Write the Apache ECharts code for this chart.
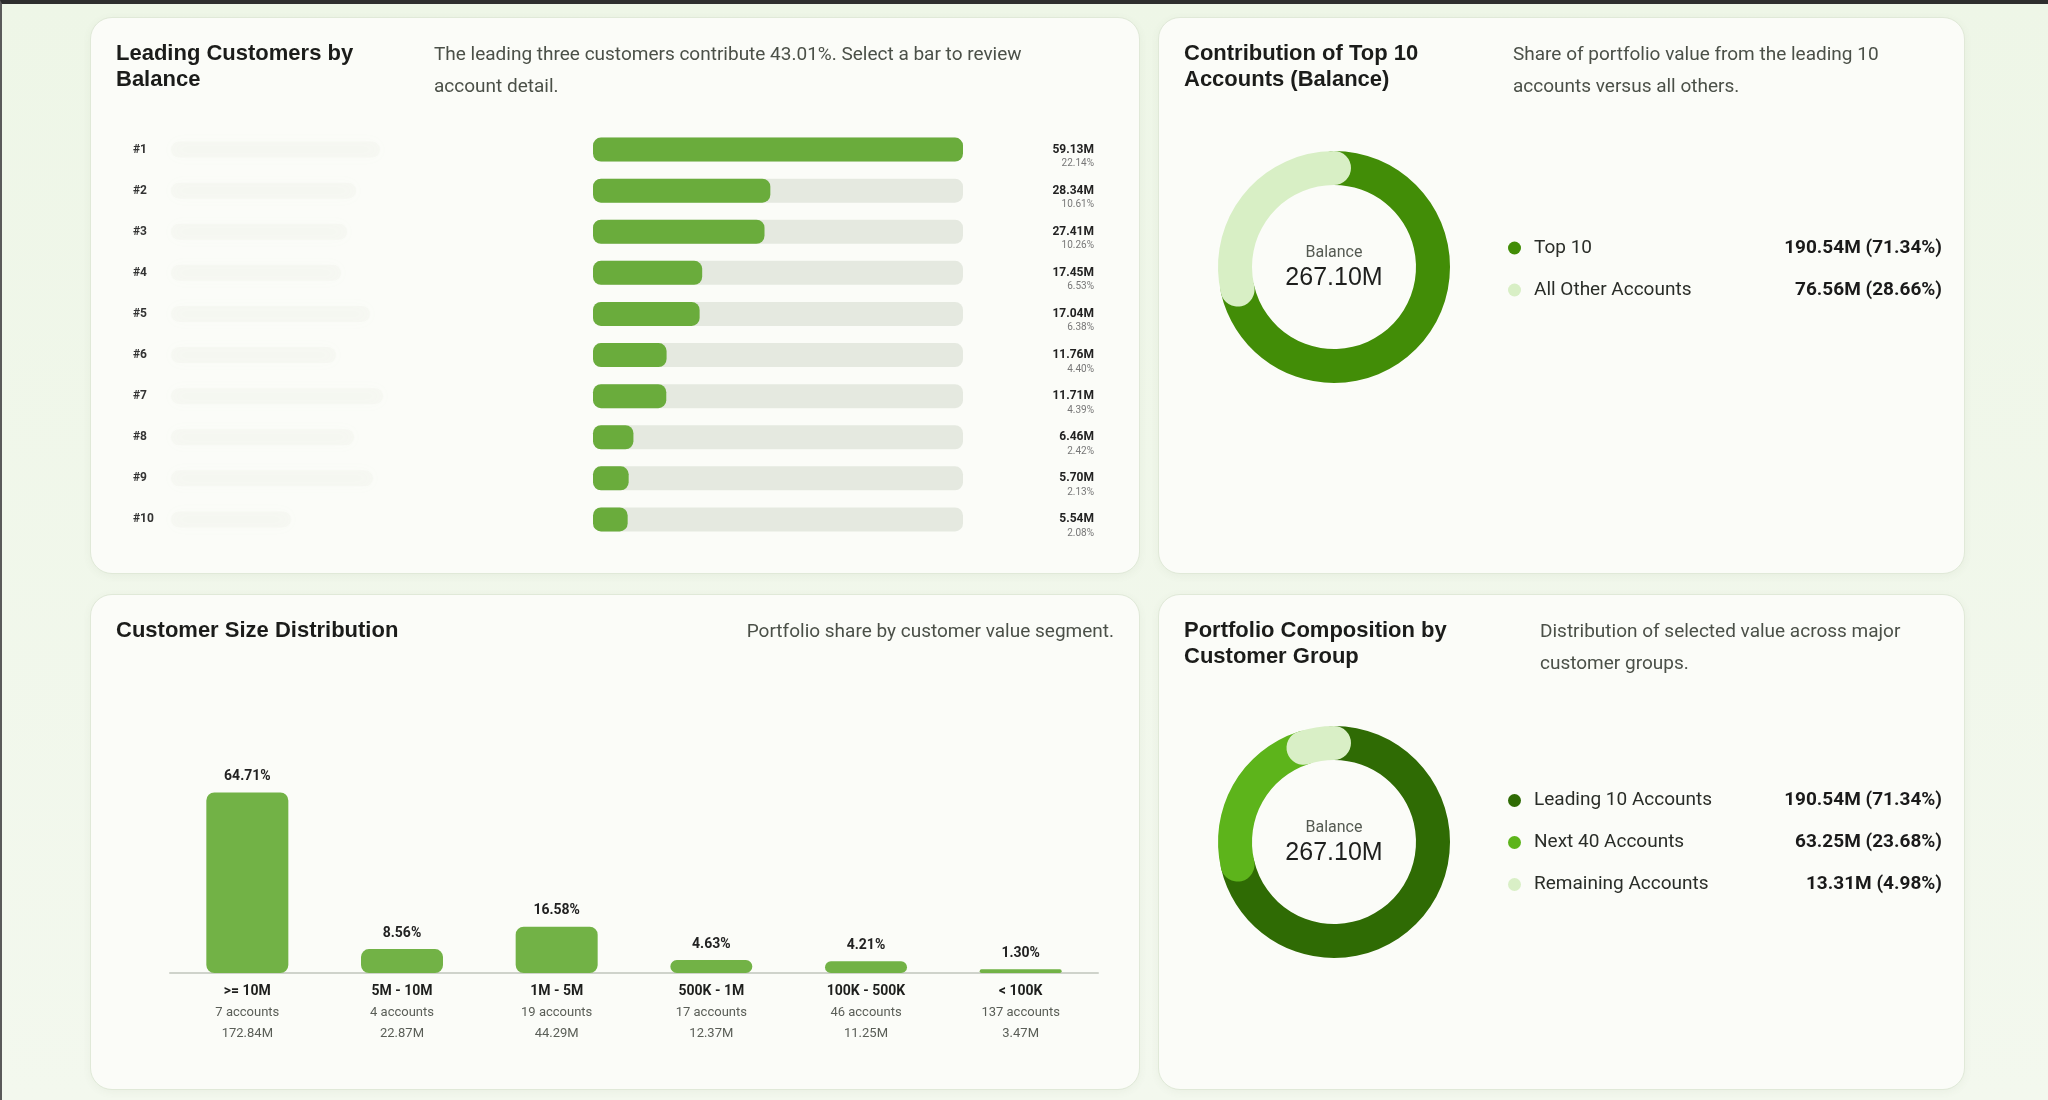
<!DOCTYPE html>
<html>
<head>
<meta charset="utf-8">
<script src="https://cdn.jsdelivr.net/npm/echarts@6/dist/echarts.min.js"></script>
<style>
  html, body { margin: 0; padding: 0; }
  body {
    width: 2048px; height: 1100px; overflow: hidden; position: relative;
    background: linear-gradient(180deg, #eef6e7 0%, #f3f8ee 100%);
    box-sizing: border-box; border-top: 4px solid #2e2e2e; border-left: 2px solid #5a5a5a;
  }
  .card {
    position: absolute; background: #fbfcf8; border: 1px solid #e0e9d8;
    border-radius: 22px; box-shadow: 0 2px 8px rgba(80, 110, 60, 0.06);
  }
  .card .chart { position: absolute; left: 0; top: 0; width: 100%; height: 100%; }
</style>
</head>
<body>
<div class="card" style="left:88px;top:13px;width:1048px;height:555px"><div class="chart" id="leaders"></div></div>
<div class="card" style="left:1156px;top:13px;width:805px;height:555px"><div class="chart" id="top10"></div></div>
<div class="card" style="left:88px;top:590px;width:1048px;height:494px"><div class="chart" id="sizes"></div></div>
<div class="card" style="left:1156px;top:590px;width:805px;height:494px"><div class="chart" id="groups"></div></div>
<script>
// leading customers
var ranks = ['#1', '#2', '#3', '#4', '#5', '#6', '#7', '#8', '#9', '#10'];
var balances = [59.13, 28.34, 27.41, 17.45, 17.04, 11.76, 11.71, 6.46, 5.70, 5.54];
var balancePct = ['22.14%', '10.61%', '10.26%', '6.53%', '6.38%', '4.40%', '4.39%', '2.42%', '2.13%', '2.08%'];

// top 10 vs others
var top10Names = ['Top 10', 'All Other Accounts'];
var top10Values = [190.54, 76.56];
var top10Pct = ['71.34%', '28.66%'];

// customer size buckets
var sizeBuckets = ['>= 10M', '5M - 10M', '1M - 5M', '500K - 1M', '100K - 500K', '< 100K'];
var sizeShare = [64.71, 8.56, 16.58, 4.63, 4.21, 1.30];
var sizeAccounts = [7, 4, 19, 17, 46, 137];
var sizeAmounts = ['172.84M', '22.87M', '44.29M', '12.37M', '11.25M', '3.47M'];

// customer groups
var groupNames = ['Leading 10 Accounts', 'Next 40 Accounts', 'Remaining Accounts'];
var groupValues = [190.54, 63.25, 13.31];
var groupPct = ['71.34%', '23.68%', '4.98%'];

var titleFont = 'Liberation Sans, Arial, sans-serif';
var bodyFont = 'Roboto, sans-serif';

function cardTitles(title, sub, subPos) {
    var t = [{
        text: title, left: 20, top: 18,
        textStyle: { fontFamily: titleFont, fontSize: 22, fontWeight: 'bold', color: '#1b1c1a', lineHeight: 26 }
    }];
    var s = {
        text: sub, top: 16,
        textStyle: { fontFamily: bodyFont, fontSize: 19, fontWeight: 'normal', color: '#4b5048', lineHeight: 32 }
    };
    for (var k in subPos) s[k] = subPos[k];
    t.push(s);
    return t;
}

// ---------- leading customers ----------
var leaders = echarts.init(document.getElementById('leaders'));
leaders.setOption({
    title: cardTitles('Leading Customers by\nBalance',
        'The leading three customers contribute 43.01%. Select a bar to review\naccount detail.', { left: 338 }),
    grid: { left: 502, right: 176, top: 111, bottom: 33 },
    xAxis: { type: 'value', min: 0, max: Math.max.apply(null, balances), show: false },
    yAxis: [
        {
            type: 'category', data: ranks, inverse: true,
            axisLine: { show: false }, axisTick: { show: false },
            axisLabel: { align: 'left', margin: 460, fontFamily: bodyFont, fontSize: 12, fontWeight: 'bold', color: '#333' }
        },
        {
            type: 'category', data: ranks, inverse: true, position: 'right',
            axisLine: { show: false }, axisTick: { show: false },
            axisLabel: {
                align: 'right', margin: 131,
                formatter: function (v, i) {
                    return '{e| }\n{v|' + balances[i].toFixed(2) + 'M}\n{p|' + balancePct[i] + '}';
                },
                rich: {
                    e: { fontSize: 10, lineHeight: 14 },
                    v: { fontFamily: bodyFont, fontSize: 12, fontWeight: 'bold', color: '#222', lineHeight: 14, align: 'right' },
                    p: { fontFamily: bodyFont, fontSize: 10, color: '#777', lineHeight: 14, align: 'right' }
                }
            }
        }
    ],
    series: [{
        type: 'bar', data: balances, barWidth: 24,
        showBackground: true,
        backgroundStyle: { color: '#e5e9e0', borderRadius: 8 },
        itemStyle: { color: '#6aac3c', borderRadius: 8 }
    }]
});
// blurred customer names
var nameWidths = [209, 185, 176, 170, 199, 165, 212, 183, 202, 120];
leaders.setOption({
    graphic: ranks.map(function (r, i) {
        var y = leaders.convertToPixel({ yAxisIndex: 0 }, r);
        return {
            type: 'rect', shape: { x: 80, y: y - 8, width: nameWidths[i], height: 16, r: 8 },
            style: { fill: 'rgba(215,220,210,0.10)', shadowBlur: 14, shadowColor: 'rgba(200,206,194,0.25)' },
            silent: true
        };
    })
});

// ---------- donut helper ----------
function donut(el, title, sub, subLeft, names, values, pcts, colors, cy) {
    var chart = echarts.init(document.getElementById(el));
    var total = values.reduce(function (a, b) { return a + b; }, 0);
    var rowH = 22, gap = 23;
    var legendH = names.length * rowH + (names.length - 1) * gap;
    chart.setOption({
        title: cardTitles(title, sub, { left: subLeft }),
        polar: { center: [175, cy], radius: [82, 116] },
        angleAxis: { type: 'value', min: 0, max: total, startAngle: 90, clockwise: true, show: false },
        radiusAxis: { type: 'category', data: ['Balance'], show: false },
        legend: {
            orient: 'vertical', left: 344, top: cy - legendH / 2,
            icon: 'circle', itemWidth: 13, itemHeight: 13, itemGap: gap,
            data: names,
            formatter: function (n) {
                var i = names.indexOf(n);
                return '{n|' + n + '}{v|' + values[i].toFixed(2) + 'M (' + pcts[i] + ')}';
            },
            textStyle: {
                rich: {
                    n: { fontFamily: bodyFont, fontSize: 19, color: '#2a2d28', width: 200, padding: [0, 0, 0, 8], lineHeight: rowH },
                    v: { fontFamily: bodyFont, fontSize: 19, fontWeight: 'bold', color: '#1a1a1a', width: 208, align: 'right', lineHeight: rowH }
                }
            }
        },
        graphic: [
            { type: 'text', x: 175, y: cy - 14, style: { text: 'Balance', align: 'center', verticalAlign: 'middle', font: '16px ' + bodyFont, fill: '#555a52' } },
            { type: 'text', x: 175, y: cy + 11, style: { text: total.toFixed(2) + 'M', align: 'center', verticalAlign: 'middle', font: '25px ' + titleFont, fill: '#1e1f1d' } }
        ],
        series: names.map(function (n, i) {
            return {
                name: n, type: 'bar', coordinateSystem: 'polar', stack: 'ring',
                data: [values[i]], roundCap: true, barCategoryGap: '0%',
                itemStyle: { color: colors[i] }
            };
        })
    });
    return chart;
}

donut('top10', 'Contribution of Top 10\nAccounts (Balance)',
    'Share of portfolio value from the leading 10\naccounts versus all others.', 349,
    top10Names, top10Values, top10Pct, ['#428d07', '#d8efc5'], 249);

donut('groups', 'Portfolio Composition by\nCustomer Group',
    'Distribution of selected value across major\ncustomer groups.', 376,
    groupNames, groupValues, groupPct, ['#2f6b04', '#5db41b', '#d9efc6'], 247);

// ---------- customer size distribution ----------
var sizes = echarts.init(document.getElementById('sizes'));
sizes.setOption({
    title: cardTitles('Customer Size Distribution', 'Portfolio share by customer value segment.', { right: 20 }),
    grid: { left: 79, right: 41, top: 99, bottom: 116 },
    xAxis: {
        type: 'category', data: sizeBuckets,
        axisTick: { show: false },
        axisLine: { lineStyle: { color: '#cfd3cb', width: 2 } },
        axisLabel: {
            margin: 8,
            formatter: function (v, i) {
                return '{a|' + v + '}\n{b|' + sizeAccounts[i] + ' accounts}\n{c|' + sizeAmounts[i] + '}';
            },
            rich: {
                a: { fontFamily: bodyFont, fontSize: 14, fontWeight: 'bold', color: '#1e1f1d', lineHeight: 21 },
                b: { fontFamily: bodyFont, fontSize: 13, color: '#5a5e57', lineHeight: 21 },
                c: { fontFamily: bodyFont, fontSize: 13, color: '#5a5e57', lineHeight: 21 }
            }
        }
    },
    yAxis: { type: 'value', min: 0, max: 100, show: false },
    series: [{
        type: 'bar', data: sizeShare, barWidth: 82,
        itemStyle: { color: '#72b246', borderRadius: 8 },
        label: {
            show: true, position: 'top', distance: 9,
            formatter: function (p) { return p.value.toFixed(2) + '%'; },
            fontFamily: bodyFont, fontSize: 14, fontWeight: 'bold', color: '#222'
        }
    }]
});
</script>
</body>
</html>
